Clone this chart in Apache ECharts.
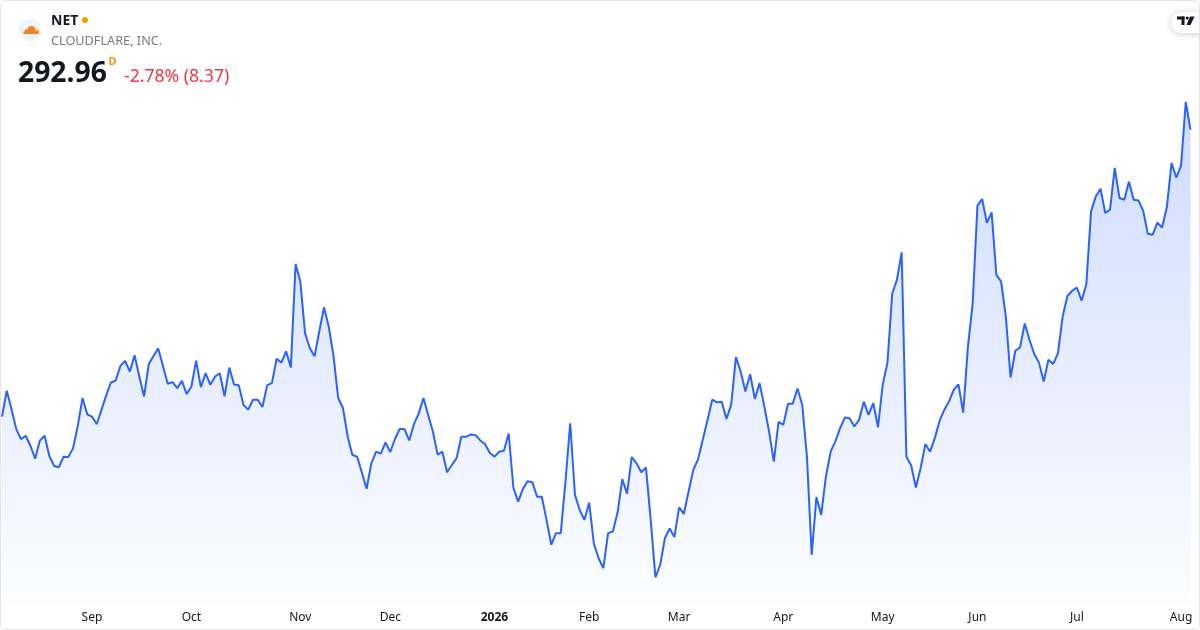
<!DOCTYPE html>
<html>
<head>
<meta charset="utf-8" />
<script src="https://cdn.jsdelivr.net/npm/echarts@6/dist/echarts.min.js"></script>
<style>
  html, body { margin: 0; padding: 0; background: #fff; }
  #chart { width: 1200px; height: 630px; }
</style>
</head>
<body>
<div id="chart"></div>
<script>
// ~~ Data (daily close, NET)

const startDay = '2025-08-05'
const endDay = '2026-08-05'
const holidays = ['2025-09-01', '2025-11-27', '2025-12-25', '2026-01-01', '2026-01-19', '2026-02-16', '2026-04-03', '2026-05-25', '2026-06-19', '2026-07-03']
const monthNames = ['Jan', 'Feb', 'Mar', 'Apr', 'May', 'Jun', 'Jul', 'Aug', 'Sep', 'Oct', 'Nov', 'Dec']

const closes = [
  // Aug 2025
  206.3, 214.1, 208.6, 202.6, 199.5, 200.5, 197.5, 193.6, 199.1, 200.5, 194.4, 191.4, 191.0, 194.2, 194.1, 196.7, 203.5, 211.9, 207.0,
  // Sep
  206.3, 204.0, 208.3, 212.7, 216.6, 217.2, 221.6, 223.1, 219.9, 224.8, 218.4, 212.4, 222.2, 224.6, 226.9, 221.6, 216.2, 216.7, 214.9, 217.1, 213.1,
  // Oct
  215.4, 223.2, 215.2, 219.4, 215.9, 218.4, 219.4, 212.4, 221.1, 216.0, 215.8, 209.8, 208.4, 211.4, 211.4, 209.2, 215.8, 216.4, 223.8, 222.6, 226.0, 221.1, 252.4,
  // Nov
  247.1, 231.5, 227.0, 224.5, 232.0, 239.3, 233.5, 224.7, 211.9, 208.9, 200.3, 194.7, 194.2, 189.4, 184.5, 192.2, 195.7, 195.1, 198.5,
  // Dec
  195.6, 199.6, 202.6, 202.5, 199.1, 204.0, 207.2, 211.9, 206.8, 201.8, 194.8, 195.7, 189.5, 191.7, 193.7, 200.2, 200.2, 200.9, 200.7, 199.1, 198.0, 195.4,
  // Jan 2026
  194.2, 195.7, 196.0, 201.2, 184.8, 180.6, 184.4, 186.8, 186.5, 182.1, 182.1, 175.1, 167.6, 171.1, 171.1, 186.7, 204.3, 182.7, 178.1, 175.1,
  // Feb
  180.3, 167.9, 163.5, 160.5, 171.1, 171.6, 177.3, 187.4, 183.0, 194.1, 192.2, 189.5, 190.9, 175.1, 157.7, 161.5, 169.6, 172.5, 169.9,
  // Mar
  178.9, 176.9, 183.7, 190.2, 193.4, 199.3, 205.3, 211.4, 210.6, 210.8, 205.6, 209.9, 224.3, 219.9, 213.9, 219.1, 211.6, 216.4, 209.3, 201.8, 192.7, 204.7,
  // Apr
  203.8, 210.2, 210.2, 214.8, 209.9, 194.1, 164.5, 182.0, 176.6, 188.2, 195.7, 198.8, 202.8, 206.0, 205.8, 203.3, 205.3, 210.8, 206.8, 210.4, 203.1,
  // May
  215.9, 222.6, 243.4, 247.6, 255.9, 194.2, 191.6, 184.9, 190.7, 198.0, 195.7, 199.8, 205.0, 208.3, 210.9, 214.4, 216.0, 207.5, 227.5, 240.6,
  // Jun
  270.0, 272.0, 264.8, 268.0, 249.1, 247.1, 236.5, 218.1, 226.2, 227.2, 234.4, 229.5, 225.2, 222.6, 216.9, 223.5, 222.2, 225.4, 236.5, 242.7, 244.3,
  // Jul
  245.3, 241.3, 246.3, 268.3, 272.8, 275.1, 267.8, 268.8, 281.4, 272.3, 271.8, 277.2, 271.8, 271.6, 268.5, 261.5, 261.2, 264.9, 263.4, 269.5, 282.9, 278.5,
  // Aug
  282.1, 301.33, 292.96,
]

const lastPrice = '292.96'
const changeText = '-2.78% (8.37)'

// trading days only (weekends + exchange holidays skipped)
const dates = []
for (let d = new Date(startDay + 'T00:00:00Z'); d <= new Date(endDay + 'T00:00:00Z'); d.setUTCDate(d.getUTCDate() + 1)) {
  const wd = d.getUTCDay()
  const s = d.toISOString().slice(0, 10)
  if (wd === 0 || wd === 6 || holidays.includes(s)) continue
  dates.push(s)
}

const _isMonthStart = function (idx) {
  return idx > 0 && dates[idx].slice(0, 7) !== dates[idx - 1].slice(0, 7)
}

// ~~ Chart

const FONT = '"Noto Sans", "Open Sans", sans-serif'
const TEXT_COLOR = '#131722'
const ORANGE = '#f48120'

const option = {
  animation: false,
  backgroundColor: '#fff',
  grid: { left: 2, right: 9.5, top: 60, bottom: 27 },
  textStyle: { fontFamily: FONT },
  xAxis: {
    type: 'category',
    data: dates,
    boundaryGap: false,
    axisLine: { show: false },
    axisTick: { show: false },
    splitLine: { show: false },
    axisLabel: {
      interval: (idx) => _isMonthStart(idx),
      margin: 9,
      color: TEXT_COLOR,
      fontSize: 12,
      fontFamily: FONT,
      formatter: (v) => {
        const m = +v.slice(5, 7)
        return m === 1 ? `{y|${v.slice(0, 4)}}` : monthNames[m - 1]
      },
      rich: {
        y: { fontWeight: 'bold', fontSize: 12, color: TEXT_COLOR, fontFamily: FONT },
      },
    },
  },
  yAxis: {
    type: 'value',
    show: false,
    min: 150,
    max: 314,
    splitLine: { show: false },
  },
  series: [
    {
      type: 'line',
      data: closes,
      symbol: 'none',
      smooth: false,
      lineStyle: { color: '#2962ff', width: 2 },
      itemStyle: { color: '#2962ff' },
      areaStyle: {
        color: {
          type: 'linear',
          x: 0,
          y: 0,
          x2: 0,
          y2: 1,
          colorStops: [
            { offset: 0, color: 'rgba(41, 98, 255, 0.32)' },
            { offset: 1, color: 'rgba(41, 98, 255, 0.02)' },
          ],
        },
      },
    },
  ],
  graphic: [
    // symbol logo
    { type: 'circle', shape: { cx: 30, cy: 30, r: 11 }, style: { fill: '#f0f3fa' }, silent: true },
    { type: 'circle', shape: { cx: 31.5, cy: 30, r: 4 }, style: { fill: ORANGE }, silent: true },
    { type: 'circle', shape: { cx: 26.8, cy: 31.6, r: 2.4 }, style: { fill: ORANGE }, silent: true },
    { type: 'circle', shape: { cx: 37, cy: 31.6, r: 2.4 }, style: { fill: '#faad3f' }, silent: true },
    { type: 'rect', shape: { x: 23.5, y: 31.5, width: 15, height: 2.5 }, style: { fill: ORANGE }, silent: true },
    // header texts
    { type: 'text', left: 51, top: 14, style: { text: 'NET', font: `bold 14px ${FONT}`, fill: TEXT_COLOR } },
    { type: 'circle', shape: { cx: 85, cy: 20, r: 3 }, style: { fill: '#ff9800' }, silent: true },
    { type: 'text', left: 51, top: 35, style: { text: 'CLOUDFLARE, INC.', font: `12.7px ${FONT}`, fill: '#787b86' } },
    { type: 'text', left: 18, top: 60, style: { text: lastPrice, font: `bold 28.3px ${FONT}`, fill: TEXT_COLOR } },
    { type: 'text', left: 108.5, top: 56, style: { text: 'D', font: `bold 11px ${FONT}`, fill: '#ff9800' } },
    { type: 'text', left: 124, top: 67.5, style: { text: changeText, font: `17.6px ${FONT}`, fill: '#f23645' } },
    // tradingview badge
    {
      type: 'rect',
      shape: { x: 1171, y: 12, width: 44, height: 21, r: 10 },
      style: { fill: '#fff', shadowBlur: 7, shadowColor: 'rgba(0, 0, 0, 0.2)', shadowOffsetY: 1 },
      silent: true,
    },
    { type: 'rect', shape: { x: 1177, y: 16.5, width: 7.5, height: 3 }, style: { fill: TEXT_COLOR }, silent: true },
    { type: 'rect', shape: { x: 1181.5, y: 16.5, width: 3, height: 8.5 }, style: { fill: TEXT_COLOR }, silent: true },
    { type: 'circle', shape: { cx: 1187.2, cy: 18, r: 1.6 }, style: { fill: TEXT_COLOR }, silent: true },
    { type: 'polygon', shape: { points: [[1190, 16.5], [1194.5, 16.5], [1190.5, 25], [1186.5, 25]] }, style: { fill: TEXT_COLOR }, silent: true },
    // frame
    {
      type: 'rect',
      z: 100,
      shape: { x: 0.5, y: 0.5, width: 1199, height: 629, r: 6 },
      style: { fill: 'none', stroke: '#e0e3eb', lineWidth: 1 },
      silent: true,
    },
  ],
}

const c = echarts.init(document.getElementById('chart'))
c.setOption(option)
</script>
</body>
</html>
